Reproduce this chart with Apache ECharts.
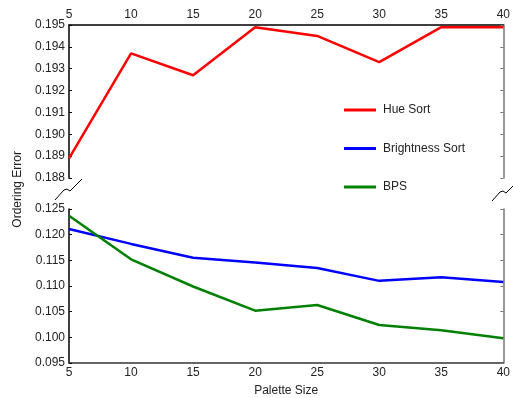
<!DOCTYPE html>
<html>
<head>
<meta charset="utf-8">
<script src="https://cdn.jsdelivr.net/npm/echarts@6/dist/echarts.min.js"></script>
<style>
  html, body { margin: 0; padding: 0; background: #fff; }
  #chart { width: 513px; height: 398px; }
</style>
</head>
<body>
<div id="chart"></div>
<script>
// palette sizes
const sizes = [5, 10, 15, 20, 25, 30, 35, 40]
// top panel
const hueSort = [0.1889, 0.1937, 0.1927, 0.1949, 0.1945, 0.1933, 0.1949, 0.1949]
// bottom panel
const brightnessSort = [0.1211, 0.1182, 0.1155, 0.1146, 0.1135, 0.1110, 0.1117, 0.1108]
const bps = [0.1237, 0.1152, 0.1099, 0.1052, 0.1063, 0.1024, 0.1014, 0.0998]

const pairs = (vals) => sizes.map((s, i) => [s, vals[i]])

const font = 'Liberation Sans, Arial, sans-serif'
const labelStyle = { color: '#222', fontSize: 12, fontFamily: font }

const chart = echarts.init(document.getElementById('chart'))

chart.setOption({
  animation: false,
  grid: [
    { left: 69, right: 8, top: 25, height: 153 },
    { left: 69, right: 8, top: 209, height: 154 }
  ],
  xAxis: [
    {
      gridIndex: 0, type: 'value', position: 'top', min: 5, max: 40, interval: 5,
      axisLine: { lineStyle: { color: '#000', width: 1.5 } },
      axisTick: { show: false },
      axisLabel: Object.assign({ margin: 4 }, labelStyle),
      splitLine: { show: false }
    },
    {
      gridIndex: 1, type: 'value', position: 'bottom', min: 5, max: 40, interval: 5,
      name: 'Palette Size', nameLocation: 'middle', nameGap: 22,
      nameTextStyle: { color: '#222', fontSize: 12, fontFamily: font },
      axisLine: { lineStyle: { color: '#333', width: 1.5 } },
      axisTick: { show: false },
      axisLabel: Object.assign({ margin: 4 }, labelStyle),
      splitLine: { show: false }
    }
  ],
  yAxis: [
    {
      gridIndex: 0, type: 'value', min: 0.188, max: 0.195, interval: 0.001,
      axisLine: { show: true, lineStyle: { color: '#000', width: 1.5 } },
      axisTick: { show: true, inside: true, length: 3, lineStyle: { color: '#000' } },
      axisLabel: Object.assign({ margin: 4, formatter: v => v.toFixed(3) }, labelStyle),
      splitLine: { show: false }
    },
    {
      gridIndex: 0, type: 'value', position: 'right', min: 0.188, max: 0.195, interval: 0.001,
      axisLine: { show: true, lineStyle: { color: '#777', width: 1.5 } },
      axisTick: { show: true, inside: true, length: 3, lineStyle: { color: '#777' } },
      axisLabel: { show: false },
      splitLine: { show: false }
    },
    {
      gridIndex: 1, type: 'value', min: 0.095, max: 0.125, interval: 0.005,
      axisLine: { show: true, lineStyle: { color: '#000', width: 1.5 } },
      axisTick: { show: true, inside: true, length: 3, lineStyle: { color: '#000' } },
      axisLabel: Object.assign({ margin: 4, formatter: v => v.toFixed(3) }, labelStyle),
      splitLine: { show: false }
    },
    {
      gridIndex: 1, type: 'value', position: 'right', min: 0.095, max: 0.125, interval: 0.005,
      axisLine: { show: true, lineStyle: { color: '#777', width: 1.5 } },
      axisTick: { show: true, inside: true, length: 3, lineStyle: { color: '#777' } },
      axisLabel: { show: false },
      splitLine: { show: false }
    }
  ],
  legend: {
    orient: 'vertical',
    left: 339,
    top: 99,
    itemWidth: 32,
    itemHeight: 3,
    itemGap: 26.5,
    icon: 'rect',
    textStyle: { color: '#222', fontSize: 12, fontFamily: font, padding: [0, 0, 0, 2] },
    data: ['Hue Sort', 'Brightness Sort', 'BPS']
  },
  graphic: [
    {
      type: 'text', left: 12, top: 151, rotation: Math.PI / 2,
      style: { text: 'Ordering Error', fill: '#222', font: '12px ' + font }
    },
    {
      type: 'polyline',
      shape: { points: [[55, 200], [64, 190], [67, 189], [70, 191], [73, 188], [82, 179]] },
      style: { stroke: '#000', lineWidth: 1, fill: null }
    },
    {
      type: 'polyline',
      shape: { points: [[492, 201], [500, 192], [503, 191], [506, 193], [509, 190], [513, 186]] },
      style: { stroke: '#000', lineWidth: 1, fill: null }
    }
  ],
  series: [
    {
      name: 'Hue Sort', type: 'line', xAxisIndex: 0, yAxisIndex: 0,
      data: pairs(hueSort), showSymbol: false, symbol: 'none',
      lineStyle: { color: '#ff0000', width: 2.5 }, itemStyle: { color: '#ff0000' }
    },
    {
      name: 'Brightness Sort', type: 'line', xAxisIndex: 1, yAxisIndex: 2,
      data: pairs(brightnessSort), showSymbol: false, symbol: 'none',
      lineStyle: { color: '#0000ff', width: 2.5 }, itemStyle: { color: '#0000ff' }
    },
    {
      name: 'BPS', type: 'line', xAxisIndex: 1, yAxisIndex: 2,
      data: pairs(bps), showSymbol: false, symbol: 'none',
      lineStyle: { color: '#008000', width: 2.5 }, itemStyle: { color: '#008000' }
    }
  ]
})
</script>
</body>
</html>
